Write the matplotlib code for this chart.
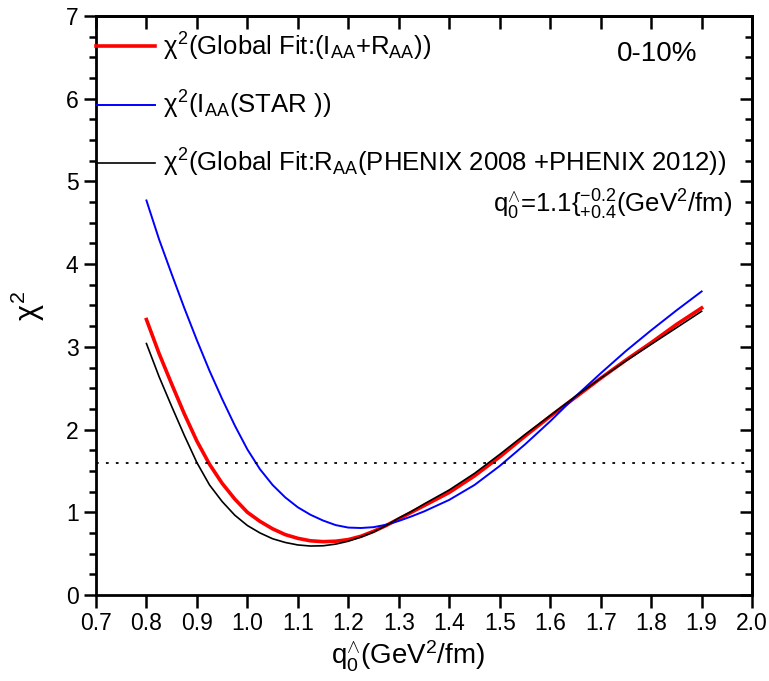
import matplotlib
matplotlib.use('Agg')
from matplotlib import pyplot as plt
from matplotlib.ticker import MultipleLocator, FormatStrFormatter

plt.rcParams['font.family'] = ['Liberation Sans', 'DejaVu Sans']
plt.rcParams['mathtext.fontset'] = 'custom'
plt.rcParams['mathtext.rm'] = 'Liberation Sans'
plt.rcParams['mathtext.it'] = 'Liberation Sans'

# q0 values (GeV^2/fm)
q0 = [0.800, 0.825, 0.850, 0.875, 0.900, 0.925, 0.950, 0.975, 1.000, 1.025,
      1.050, 1.075, 1.100, 1.125, 1.150, 1.175, 1.200, 1.225, 1.250, 1.275,
      1.300, 1.325, 1.350, 1.40, 1.45, 1.50, 1.55, 1.60, 1.65, 1.70,
      1.75, 1.80, 1.85, 1.90]

chi2_global = [3.33, 2.92, 2.55, 2.19, 1.86, 1.58, 1.35, 1.16, 1.00, 0.89,
               0.80, 0.73, 0.685, 0.655, 0.645, 0.65, 0.67, 0.71, 0.77, 0.84,
               0.92, 1.00, 1.08, 1.24, 1.44, 1.67, 1.92, 2.16, 2.39, 2.62,
               2.84, 3.05, 3.27, 3.47]
chi2_iaa = [4.77, 4.30, 3.88, 3.47, 3.08, 2.71, 2.37, 2.05, 1.76, 1.52,
            1.33, 1.18, 1.06, 0.97, 0.90, 0.845, 0.815, 0.81, 0.82, 0.85,
            0.895, 0.95, 1.01, 1.15, 1.33, 1.56, 1.82, 2.10, 2.40, 2.68,
            2.95, 3.20, 3.44, 3.67]
chi2_raa = [3.04, 2.64, 2.28, 1.93, 1.60, 1.33, 1.13, 0.965, 0.84, 0.75,
            0.68, 0.635, 0.605, 0.592, 0.595, 0.615, 0.65, 0.70, 0.76, 0.84,
            0.93, 1.01, 1.10, 1.27, 1.47, 1.70, 1.94, 2.17, 2.40, 2.62,
            2.83, 3.03, 3.23, 3.43]

chi2_cut = 1.6

labels = [r'$\chi^2$(Global Fit:(I$_{AA}$+R$_{AA}$))',
          r'$\chi^2$(I$_{AA}$(STAR ))',
          r'$\chi^2$(Global Fit:R$_{AA}$(PHENIX 2008 +PHENIX 2012))']

fig = plt.figure(figsize=(7.69, 6.81), dpi=100)
ax = fig.add_axes([0.1248, 0.1263, 0.8532, 0.8502])

l1, = ax.plot(q0, chi2_global, color='red', lw=2.6)
l2, = ax.plot(q0, chi2_iaa, color='blue', lw=1.4)
l3, = ax.plot(q0, chi2_raa, color='black', lw=1.2)
ax.axhline(chi2_cut, color='black', lw=1.3, linestyle=(0, (1.5, 4)))

ax.set_xlim(0.7, 2.0)
ax.set_ylim(0, 7)

# bottom / left ticks point out
ax.xaxis.set_major_locator(MultipleLocator(0.1))
ax.yaxis.set_major_locator(MultipleLocator(1))
ax.yaxis.set_minor_locator(MultipleLocator(0.25))
ax.tick_params(which='major', direction='out', length=9, width=1.8, labelsize=16.5)
ax.tick_params(which='minor', direction='out', length=5, width=1.8)
ax.xaxis.set_major_formatter(FormatStrFormatter('%.1f'))

# top / right mirror ticks point in
top = ax.secondary_xaxis('top')
top.xaxis.set_major_locator(MultipleLocator(0.1))
top.tick_params(direction='in', length=9, width=1.8, labeltop=False)
right = ax.secondary_yaxis('right')
right.yaxis.set_major_locator(MultipleLocator(1))
right.yaxis.set_minor_locator(MultipleLocator(0.25))
right.tick_params(which='major', direction='in', length=9, width=1.8, labelright=False)
right.tick_params(which='minor', direction='in', length=5, width=1.8)

for s in ax.spines.values():
    s.set_linewidth(2)
top.spines['top'].set_linewidth(2)
right.spines['right'].set_linewidth(2)

ax.set_xlabel(r'q$_0^{\wedge}$(GeV$^2$/fm)', fontsize=20)
ax.xaxis.set_label_coords(0.476, -0.075)
ax.set_ylabel(r'$\chi^2$', fontsize=22)
ax.yaxis.set_label_coords(-0.075, 0.5)

ax.legend([l1, l2, l3], labels, loc='upper left', bbox_to_anchor=(0, 0.975),
          frameon=False, fontsize=18.5, handlelength=2.3, handletextpad=0.3,
          borderaxespad=0, borderpad=0, labelspacing=1.02)

ax.text(0.855, 0.935, '0-10%', transform=ax.transAxes, fontsize=20,
        ha='center', va='center')
ax.text(0.97, 0.674, r'q$_0^{\wedge}$=1.1$\{^{-0.2}_{+0.4}$(GeV$^2$/fm)',
        transform=ax.transAxes, fontsize=18.5, ha='right', va='center')

fig.savefig('out.png', dpi=100)
